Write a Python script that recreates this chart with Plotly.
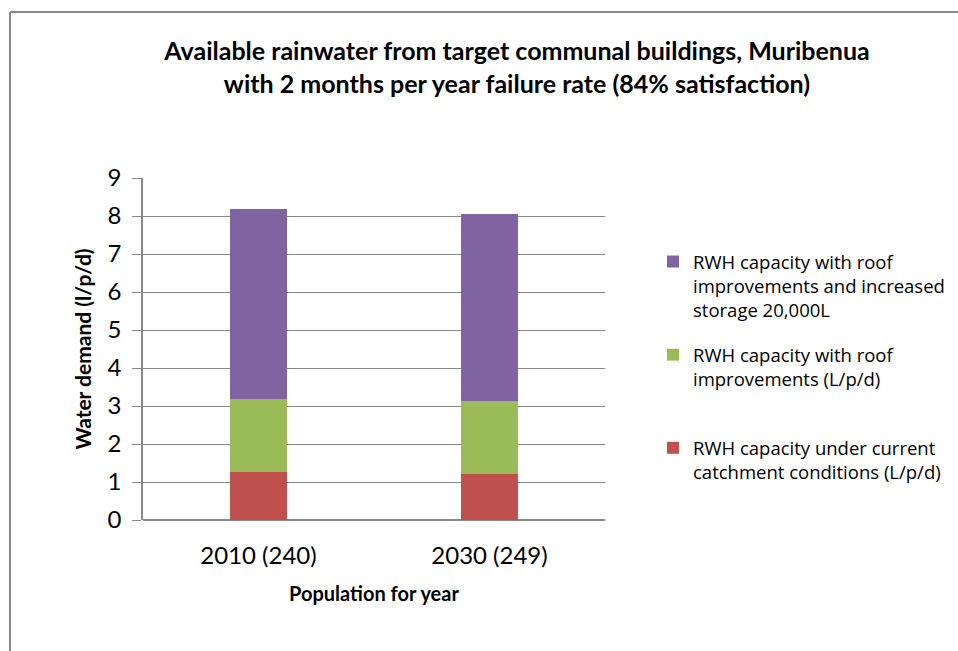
import plotly.graph_objects as go

categories = ["2010 (240)", "2030 (249)"]
current = [1.27, 1.22]
roof = [1.91, 1.91]
storage = [5.00, 4.91]

series_names = [
    "RWH capacity under current<br>catchment conditions (L/p/d)",
    "RWH capacity with roof<br>improvements (L/p/d)<br> ",
    "RWH capacity with roof<br>improvements and increased<br>storage 20,000L",
]
colors = ["#C0504D", "#9BBB59", "#8064A2"]
ranks = [3, 2, 1]
values = [current, roof, storage]

FONT = "Lato, 'Open Sans', sans-serif"
LFONT = "'Open Sans', sans-serif"
W, H = 958, 651
# plot area in screen pixels
L, R, T, B = 143, 605, 178, 520

def px(x):  # screen x -> paper
    return (x - L) / (R - L)

def py(y):
    return (B - y) / (B - T)

fig = go.Figure()
for i, (name, vals, col) in enumerate(zip(series_names, values, colors)):
    fig.add_trace(go.Bar(
        x=categories, y=vals, name=name, marker=dict(color=col, line=dict(width=0)),
        legendgroup=f"g{i}", legendrank=ranks[i],
    ))

fig.update_layout(
    width=W, height=H,
    margin=dict(l=L, r=W - R, t=T, b=H - B, pad=0, autoexpand=False),
    paper_bgcolor="white", plot_bgcolor="white",
    barmode="stack", bargap=0.75,
    font=dict(family=FONT, color="black"),
    title=dict(
        text="<b>Available rainwater from target communal buildings, Muribenua<br>with 2 months per year failure rate (84% satisfaction)</b>",
        x=517 / W, xref="container", xanchor="center",
        y=1 - 60 / H, yref="container", yanchor="middle",
        font=dict(size=25, family=FONT, color="black"),
    ),
    xaxis=dict(
        showgrid=False, showline=False, ticks="",
        tickfont=dict(size=24, family=FONT), ticklabelstandoff=19,
        title=dict(text="<b>Population for year</b>", font=dict(size=20, family=FONT), standoff=18),
    ),
    yaxis=dict(
        range=[0, 9], dtick=1, showgrid=True, gridcolor="#888888", gridwidth=1.3,
        showline=True, linecolor="#888888", linewidth=1.5,
        zeroline=True, zerolinecolor="#888888", zerolinewidth=1.5,
        ticks="outside", ticklen=9, tickcolor="#888888", tickwidth=1.3,
        tickfont=dict(size=24, family=FONT), ticklabelstandoff=6,
        title=dict(text="<b>Water demand (l/p/d)</b>", font=dict(size=21, family=FONT), standoff=10),
    ),
    legend=dict(
        xref="container", yref="container",
        x=653 / W, y=1 - 243 / H, xanchor="left", yanchor="top",
        traceorder="grouped", tracegroupgap=18, valign="top",
        font=dict(size=18.5, family=LFONT, color="black"),
        itemwidth=30, bgcolor="rgba(0,0,0,0)",
    ),
    shapes=[
        dict(type="line", xref="paper", yref="paper",
             x0=px(10), x1=px(10), y0=py(12), y1=py(700),
             line=dict(color="#888888", width=2)),
        dict(type="line", xref="paper", yref="paper",
             x0=px(10), x1=px(1000), y0=py(12), y1=py(12),
             line=dict(color="#888888", width=2)),
    ],
)

fig.write_html(
    "out.html",
    config={"displayModeBar": False},
    post_script="document.body.style.margin='0';document.body.style.overflow='hidden';",
)
